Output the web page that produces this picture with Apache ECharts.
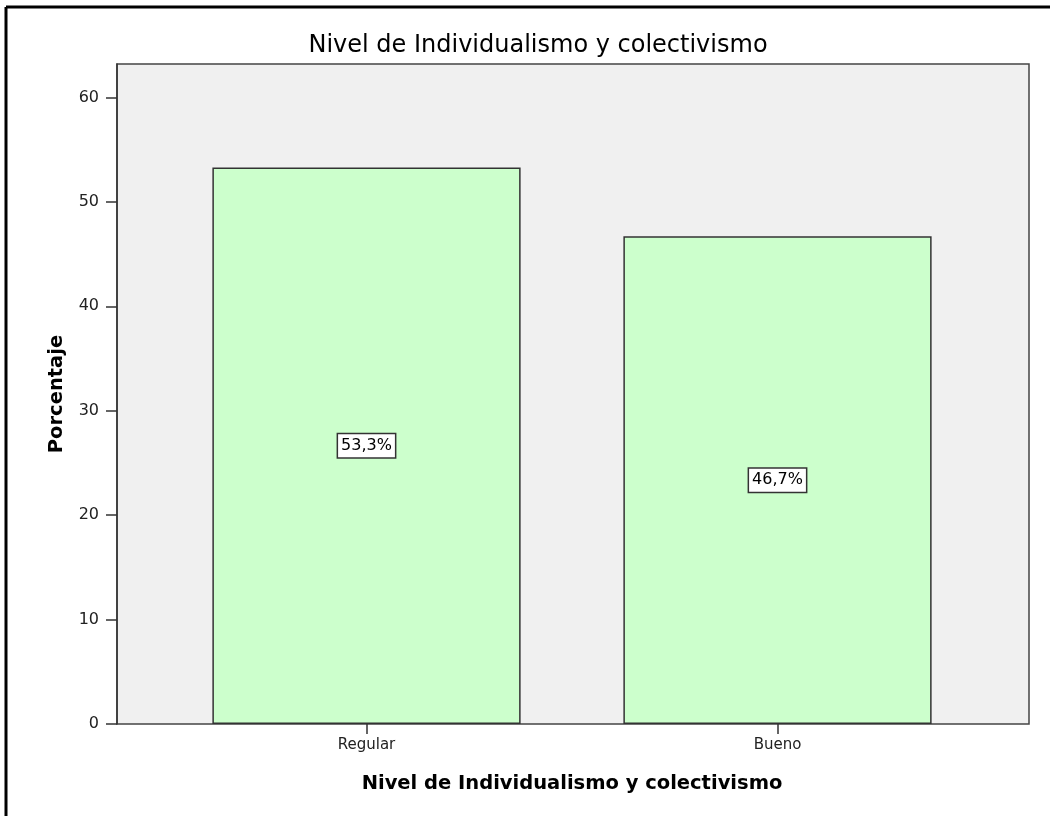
<!DOCTYPE html>
<html>
<head>
<meta charset="utf-8">
<script src="https://cdn.jsdelivr.net/npm/echarts@6/dist/echarts.min.js"></script>
<style>
  html, body { margin: 0; padding: 0; background: #fff; }
  #chart { width: 1050px; height: 816px; }
</style>
</head>
<body>
<div id="chart"></div>
<script>
// datos del gráfico
const categories = ['Regular', 'Bueno']
const porcentajes = [53.3, 46.7]
const yTicks = [0, 10, 20, 30, 40, 50, 60]

const titulo = 'Nivel de Individualismo y colectivismo'
const font = 'DejaVu Sans, Arial, sans-serif'

const chart = echarts.init(document.getElementById('chart'))

chart.setOption({
  animation: false,
  backgroundColor: '#ffffff',
  title: {
    text: titulo,
    left: 533,
    textAlign: 'center',
    top: 29,
    textStyle: { fontFamily: font, fontSize: 24, fontWeight: 'normal', color: '#000' }
  },
  // marco exterior (solo arriba e izquierda)
  graphic: [
    { type: 'line', shape: { x1: 6, y1: 7, x2: 1050, y2: 7 }, style: { stroke: '#000', lineWidth: 3 } },
    { type: 'line', shape: { x1: 6, y1: 7, x2: 6, y2: 816 }, style: { stroke: '#000', lineWidth: 3 } }
  ],
  grid: [
    // fondo gris con el eje Y
    { left: 117, top: 64, width: 912, height: 660, show: true, backgroundColor: '#f0f0f0', borderColor: '#444', borderWidth: 1.5 },
    // área de las barras
    { left: 161, top: 64, width: 822, height: 660 }
  ],
  xAxis: [
    { gridIndex: 0, type: 'value', show: false, min: 0, max: 1 },
    {
      gridIndex: 1,
      type: 'category',
      data: categories,
      name: titulo,
      nameLocation: 'middle',
      nameGap: 50,
      nameTextStyle: { fontFamily: font, fontSize: 19.5, fontWeight: 'bold', color: '#000' },
      axisLine: { show: false },
      axisTick: { show: true, alignWithLabel: true, length: 10, lineStyle: { color: '#333', width: 1.5 } },
      axisLabel: { margin: 14, fontFamily: font, fontSize: 15, color: '#222' }
    }
  ],
  yAxis: [
    {
      gridIndex: 0,
      type: 'value',
      min: 0,
      max: 63.2,
      name: 'Porcentaje',
      nameLocation: 'middle',
      nameGap: 50,
      nameTextStyle: { fontFamily: font, fontSize: 19.5, fontWeight: 'bold', color: '#000' },
      axisLine: { show: true, lineStyle: { color: '#333', width: 1.5 } },
      axisTick: { show: true, length: 11, customValues: yTicks, lineStyle: { color: '#333', width: 1.5 } },
      axisLabel: { margin: 18, customValues: yTicks, fontFamily: font, fontSize: 16, color: '#222' },
      splitLine: { show: false }
    },
    { gridIndex: 1, type: 'value', min: 0, max: 63.2, show: false }
  ],
  series: [
    {
      type: 'bar',
      xAxisIndex: 1,
      yAxisIndex: 1,
      data: porcentajes,
      barWidth: '75%',
      itemStyle: { color: '#ccffcc', borderColor: '#333', borderWidth: 1.5 },
      label: {
        show: true,
        position: 'inside',
        formatter: p => p.value.toFixed(1).replace('.', ',') + '%',
        fontFamily: font,
        fontSize: 16,
        color: '#000',
        backgroundColor: '#fff',
        borderColor: '#333',
        borderWidth: 1.5,
        padding: [4, 3, 3, 3]
      }
    }
  ]
})
</script>
</body>
</html>
